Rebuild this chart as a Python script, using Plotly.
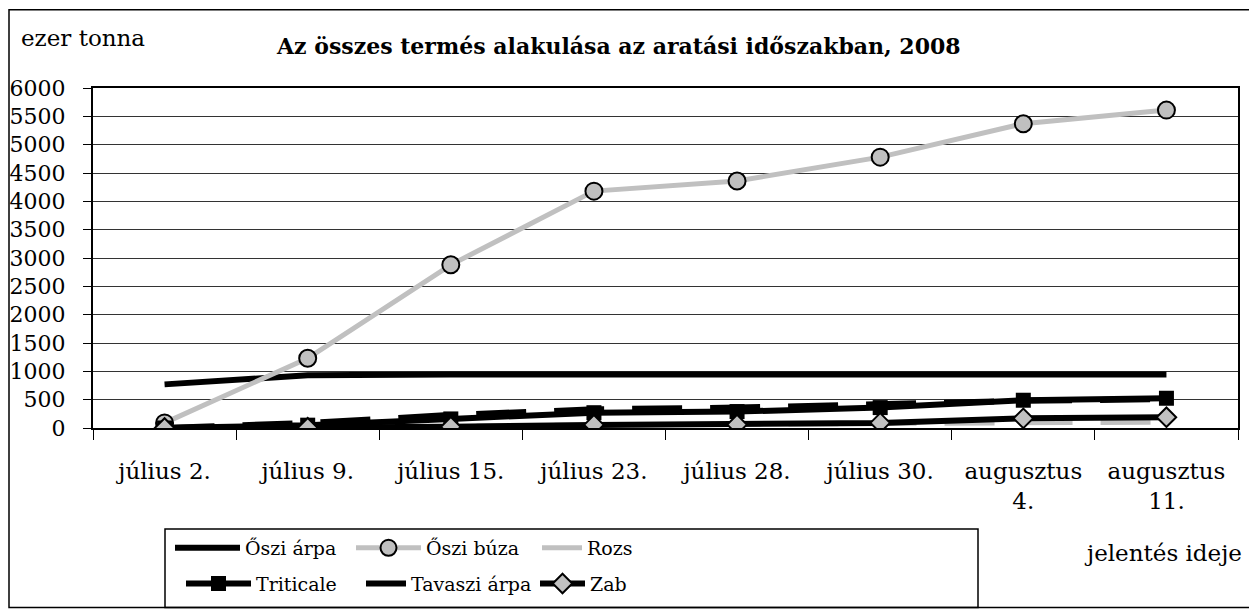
import plotly.graph_objects as go

# jelentés ideje (report dates)
dates = ["július 2.", "július 9.", "július 15.", "július 23.", "július 28.",
         "július 30.", "augusztus<br>4.", "augusztus<br>11."]

# ezer tonna
oszi_arpa = [770, 930, 945, 945, 945, 945, 945, 945]
oszi_buza = [90, 1230, 2880, 4180, 4360, 4780, 5370, 5610]
rozs = [0, 10, 30, 55, 65, 80, 100, 105]
triticale = [0, 50, 160, 270, 290, 360, 490, 525]
tavaszi_arpa = [0, 90, 230, 330, 360, 420, 480, 510]
zab = [0, 5, 20, 55, 60, 90, 170, 190]

FONT = "DejaVu Serif"
GRAY = "#c0c0c0"

fig = go.Figure()

fig.add_trace(go.Scatter(x=dates, y=oszi_arpa, name="Őszi árpa", mode="lines",
                         line=dict(color="black", width=6), legend="legend"))
fig.add_trace(go.Scatter(x=dates, y=oszi_buza, name="Őszi búza", mode="lines+markers",
                         line=dict(color=GRAY, width=5),
                         marker=dict(symbol="circle", size=17, color=GRAY,
                                     line=dict(color="black", width=2)),
                         legend="legend2"))
fig.add_trace(go.Scatter(x=dates, y=rozs, name="Rozs", mode="lines",
                         line=dict(color=GRAY, width=5, dash="50px,28px"), legend="legend3"))
fig.add_trace(go.Scatter(x=dates, y=triticale, name="Triticale", mode="lines+markers",
                         line=dict(color="black", width=6),
                         marker=dict(symbol="square", size=15, color="black"),
                         legend="legend4"))
fig.add_trace(go.Scatter(x=dates, y=tavaszi_arpa, name="Tavaszi árpa", mode="lines",
                         line=dict(color="black", width=6, dash="50px,28px"), legend="legend5"))
fig.add_trace(go.Scatter(x=dates, y=zab, name="Zab", mode="lines+markers",
                         line=dict(color="black", width=6),
                         marker=dict(symbol="diamond", size=15, color=GRAY,
                                     line=dict(color="black", width=2)),
                         legend="legend6"))

# the page body adds an 8px offset, so the figure is 8px smaller and
# targets below are given in screen pixels (plot area x 93..1238, y 88..431)
def px(x):
    return (x - 93) / 1145

def py(y):
    return (431 - y) / 343

def leg(text_x, y, iw):
    # legend x is placed so that the entry text starts near text_x
    return dict(x=px(text_x - iw - 12), y=py(y), orientation="h",
                xanchor="left", yanchor="middle", itemwidth=iw,
                font=dict(family=FONT, size=19, color="black"),
                bgcolor="rgba(0,0,0,0)")

fig.update_layout(
    width=1249, height=606,
    margin=dict(l=85, r=19, t=80, b=183),
    paper_bgcolor="white", plot_bgcolor="white",
    font=dict(family=FONT, size=24, color="black"),
    showlegend=True,
    legend=leg(247, 552, 65),
    legend2=leg(428, 552, 65),
    legend3=leg(589, 552, 40),
    legend4=leg(258, 588, 65),
    legend5=leg(413, 588, 40),
    legend6=leg(592, 588, 45),
    xaxis=dict(type="category", range=[-0.5, 7.5], tickson="boundaries",
               ticks="outside", ticklen=10, tickcolor="black", tickwidth=1,
               showline=True, linecolor="black", linewidth=2, mirror=True,
               showgrid=False, ticklabelstandoff=21, automargin=False,
               tickfont=dict(family=FONT, size=23, color="black")),
    yaxis=dict(range=[0, 6000], dtick=500, ticks="outside", ticklen=8,
               tickcolor="black", tickwidth=1,
               showline=True, linecolor="black", linewidth=2, mirror=True,
               showgrid=True, gridcolor="#333333", gridwidth=1,
               zeroline=False, ticklabelstandoff=13, automargin=False,
               tickfont=dict(family=FONT, size=22, color="black")),
    shapes=[
        # outer chart frame
        dict(type="rect", xref="paper", yref="paper",
             x0=px(9), x1=px(1252), y0=py(612), y1=py(9),
             line=dict(color="black", width=1.5), layer="below"),
        # legend box
        dict(type="rect", xref="paper", yref="paper",
             x0=px(165), x1=px(978), y0=py(612), y1=py(533),
             line=dict(color="black", width=1.5)),
    ],
    annotations=[
        dict(text="<b>Az összes termés alakulása az aratási időszakban, 2008</b>",
             xref="paper", yref="paper", x=px(618), y=py(46),
             xanchor="center", yanchor="middle", showarrow=False,
             font=dict(family=FONT, size=22, color="black")),
        dict(text="ezer tonna", xref="paper", yref="paper", x=px(19), y=py(38),
             xanchor="left", yanchor="middle", showarrow=False,
             font=dict(family=FONT, size=23, color="black")),
        dict(text="jelentés ideje", xref="paper", yref="paper", x=px(1244), y=py(557),
             xanchor="right", yanchor="middle", showarrow=False,
             font=dict(family=FONT, size=23, color="black")),
    ],
)

fig.write_html("out.html")
